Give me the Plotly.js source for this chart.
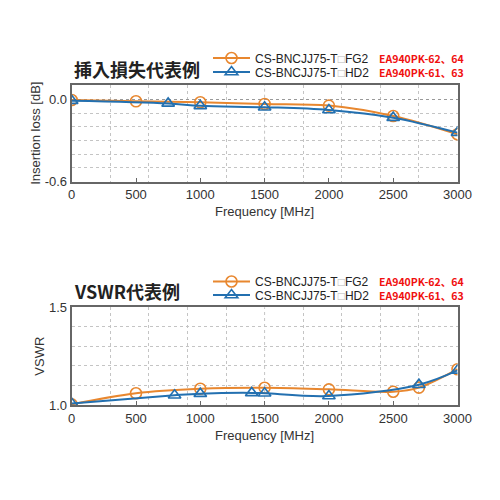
<!DOCTYPE html>
<html><head><meta charset="utf-8">
<script src="https://cdn.plot.ly/plotly-3.0.1.min.js"></script>
<style>html,body{margin:0;padding:0;background:#fff}#c{width:500px;height:500px}</style>
</head><body><div id="c"></div>
<script>
// Insertion loss data
const ilFreqFG = [0, 500, 1000, 1500, 2000, 2500, 3000];
const ilFG = [-0.005, -0.015, -0.022, -0.034, -0.046, -0.122, -0.255];
const ilFreqHD = [0, 750, 1000, 1500, 2000, 2500, 3000];
const ilHD = [-0.01, -0.03, -0.048, -0.058, -0.078, -0.134, -0.243];
// VSWR data
const vsFreqFG = [0, 500, 1000, 1500, 2000, 2500, 2700, 3000];
const vsFG = [1.003, 1.06, 1.083, 1.088, 1.08, 1.068, 1.089, 1.183];
const vsFreqHD = [0, 800, 1000, 1400, 1500, 2000, 2700, 3000];
const vsHD = [1.008, 1.05, 1.058, 1.062, 1.06, 1.046, 1.104, 1.177];
// labels
const nameFG = "CS-BNCJJ75-T<span style='color:#bbb'>□</span>FG2";
const nameHD = "CS-BNCJJ75-T<span style='color:#bbb'>□</span>HD2";
const partFG = "EA940PK-62、64";
const partHD = "EA940PK-61、63";
const title1 = "挿入損失代表例";
const title2 = "VSWR代表例";
const xTitle = "Frequency [MHz]";
const y1Title = "Insertion loss [dB]";
const y2Title = "VSWR";
const gridX = 1500; // grid value that coincides with a labelled tick

const orange = '#E8872F', blue = '#2370B0';
const W = 500, H = 500;
const px = v => v / W, py = v => 1 - v / H;

function tr(x, y, name, color, sym, xa, ya, leg) {
  return {x: x, y: y, name: name, xaxis: xa, yaxis: ya, legend: leg, type: 'scatter',
    mode: 'lines+markers', line: {color: color, width: 2, shape: 'spline', smoothing: 1},
    marker: {symbol: sym, size: 11, color: color, line: {width: 1.6, color: color}}};
}
const data = [
  tr(ilFreqFG, ilFG, nameFG, orange, 'circle-open', 'x', 'y', 'legend'),
  tr(ilFreqHD, ilHD, nameHD, blue, 'triangle-up-open', 'x', 'y', 'legend2'),
  tr(vsFreqFG, vsFG, nameFG, orange, 'circle-open', 'x2', 'y2', 'legend3'),
  tr(vsFreqHD, vsHD, nameHD, blue, 'triangle-up-open', 'x2', 'y2', 'legend4')
];

const fontBase = {family: 'Liberation Sans, Arial, sans-serif', size: 13, color: '#333'};
function xax(anchor) {
  return {domain: [px(71.7), px(457.5)], anchor: anchor, range: [0, 3000], tickmode: 'linear', tick0: 0, dtick: 500,
    ticks: 'inside', ticklen: 4, tickcolor: '#666', tickwidth: 1, showgrid: false, zeroline: false,
    showline: true, mirror: true, linecolor: '#666', linewidth: 2, tickfont: {size: 13, color: '#333'},
    minor: {tick0: 0, dtick: 300, showgrid: true, gridcolor: '#c4c4c4', griddash: 'dot', gridwidth: 1, ticks: ''},
    title: {text: xTitle, font: {size: 13, color: '#333'}, standoff: 6}};
}
function yax(anchor, dom, range, tv, tt, minorVals, title) {
  return {domain: dom, anchor: anchor, range: range, tickmode: 'array', tickvals: tv, ticktext: tt, ticks: '',
    showgrid: true, gridcolor: '#999', griddash: 'dot', gridwidth: 1, zeroline: false,
    showline: true, mirror: true, linecolor: '#666', linewidth: 2, tickfont: {size: 13, color: '#333'},
    minor: {tickmode: 'array', tickvals: minorVals, showgrid: true, gridcolor: '#c4c4c4', griddash: 'dot', gridwidth: 1, ticks: ''},
    title: {text: title, font: {size: 13, color: '#333'}, standoff: 1}};
}
function leg(x, y) {
  return {x: px(x), y: py(y), xanchor: 'left', yanchor: 'middle', bgcolor: 'rgba(0,0,0,0)', borderwidth: 0,
    font: {family: 'Liberation Sans, Arial, sans-serif', size: 12, color: '#222'}, itemwidth: 37};
}
function ann(text, x, y, font, anchor) {
  return {text: text, xref: 'paper', yref: 'paper', x: px(x), y: py(y), xanchor: 'left', yanchor: 'middle',
    align: 'left', showarrow: false, font: font};
}
function vgrid(xa, ya) {
  return {type: 'line', layer: 'below', xref: xa, yref: ya + ' domain', x0: gridX, x1: gridX, y0: 0, y1: 1,
    line: {color: '#c4c4c4', width: 1, dash: 'dot'}};
}
const titleFont = {family: 'Noto Sans CJK JP, sans-serif', size: 18, color: '#222', weight: 'bold'};
const redFont = {family: 'Noto Sans CJK JP, sans-serif', size: 10.5, color: '#f01010', weight: 'bold'};
const parts = partFG + '<br>' + partHD;

const layout = {
  width: W, height: H, margin: {l: 0, r: 0, t: 0, b: 0}, paper_bgcolor: '#fff', plot_bgcolor: '#fff',
  font: fontBase,
  xaxis: xax('y'),
  yaxis: yax('x', [py(181.7), py(84.7)], [-0.6, 0.106], [0, -0.6], ['0.0', '-0.6'], [-0.1, -0.2, -0.3, -0.4, -0.5], y1Title),
  xaxis2: xax('y2'),
  yaxis2: yax('x2', [py(405), py(307.3)], [1.0, 1.5], [1.0, 1.5], ['1.0', '1.5'], [1.1, 1.2, 1.3, 1.4], y2Title),
  showlegend: true,
  legend: leg(208, 58), legend2: leg(208, 72), legend3: leg(208, 281.5), legend4: leg(208, 295),
  shapes: [vgrid('x', 'y'), vgrid('x2', 'y2')],
  annotations: [
    ann(title1, 72, 69, titleFont), ann(title2, 72, 291, titleFont),
    ann(parts, 377, 65, redFont), ann(parts, 377, 288.3, redFont)
  ]
};
Plotly.newPlot('c', data, layout, {displayModeBar: false, staticPlot: true});
</script></body></html>
